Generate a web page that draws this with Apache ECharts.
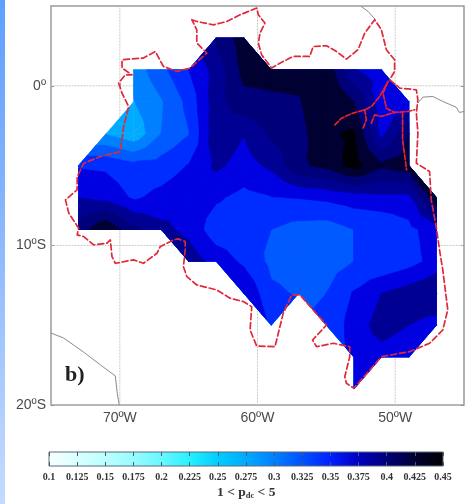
<!DOCTYPE html>
<html><head><meta charset="utf-8">
<style>html,body{margin:0;padding:0;background:#fff}#c{width:467px;height:504px;filter:blur(.45px)}</style>
<script src="https://cdn.jsdelivr.net/npm/echarts@6/dist/echarts.min.js"></script>
</head><body><div id="c"></div>
<script>
// Field values on the 2-degree grid (null = no data)
const lons = [-73,-71,-69,-67,-65,-63,-61,-59,-57,-55,-53,-51,-49,-47];
const lats = [3,1,-1,-3,-5,-7,-9,-11,-13,-15,-17,-19];
const _ = null;
const lat3   = [_,_,_,_,_,.394,.42,_,_,_,_,_,_,_];
const lat1   = [_,_,.298,.324,.35,.378,.416,.418,.418,.424,.372,.36,_,_];
const latS1  = [_,_,.289,.308,.336,.382,.404,.406,.408,.43,.41,.358,.354,_];
const latS3  = [_,.289,.274,.31,.329,.384,.371,.394,.402,.428,.432,.364,.41,_];
const latS5  = [.348,.346,.336,.339,.351,.374,.362,.374,.406,.416,.438,.414,.422,_];
const latS7  = [.37,.364,.347,.356,.364,.353,.344,.349,.351,.354,.36,.364,.364,.426];
const latS9  = [.4,.428,.396,.376,.364,.338,.336,.33,.322,.32,.33,.332,.344,.362];
const latS11 = [_,_,_,_,.382,.362,.346,.325,.322,.32,.33,.332,.342,.358];
const latS13 = [_,_,_,_,_,_,.37,.334,.328,.33,.352,.37,.38,.39];
const latS15 = [_,_,_,_,_,_,_,.346,_,.332,.36,.378,.37,.362];
const latS17 = [_,_,_,_,_,_,_,_,_,_,.358,.362,.358,_];
const latS19 = [_,_,_,_,_,_,_,_,_,_,.354,_,_,_];
const field = [lat3,lat1,latS1,latS3,latS5,latS7,latS9,latS11,latS13,latS15,latS17,latS19];

// Contour levels and the colours of the bands above each
const levels = [.29,.31,.33,.35,.37,.39,.41,.43];
const bandColors = ['#00aaff','#0080ff','#005aff','#002dff','#0000e1','#000092','#00007a','#000032','#000005'];

// Colour bar
const barValues = [.1,.125,.15,.175,.2,.225,.25,.275,.3,.325,.35,.375,.4,.425,.45];
const barColors = ['#fbffff','#d8ffff','#bcffff','#98fbff','#68f8ff','#28f0ff','#00ccff','#00aaff','#0080ff','#0050ff','#0020ff','#0000c0','#000078','#000032','#000000'];

const lonTicks = [-70,-60,-50];
const latTicks = [0,-10,-20];

// Basin outline (lon, lat)
const basin = [[-64.77,4.14],[-64.41,4.03],[-63.2,3.82],[-62.23,4.03],[-61.27,4.45],[-60.06,4.87],[-59.94,4.45],[-59.46,3.93],[-59.82,3.3],[-59.94,2.68],[-59.7,1.94],[-58.97,1.11],[-58.37,1.42],[-57.41,1.84],[-56.2,1.84],[-55.96,2.46],[-54.99,2.51],[-54.26,2.15],[-53.54,1.67],[-52.7,2.26],[-52.21,3.3],[-51.49,4.14],[-51,3.51],[-50.64,2.26],[-50.04,1.63],[-50.04,.9],[-50.4,.38],[-49.67,-.14],[-48.46,-.25],[-48.35,-.88],[-48.46,-1.71],[-48.35,-2.97],[-48.46,-4.85],[-47.5,-5.37],[-47.38,-7.15],[-47.02,-8.82],[-46.78,-10.28],[-46.54,-11.54],[-46.18,-14.04],[-46.54,-15.3],[-47.5,-16.13],[-48.95,-16.66],[-51,-16.97],[-53,-18.95],[-53.54,-18.64],[-53.66,-18.23],[-53.3,-16.97],[-53.3,-16.35],[-54.51,-16.13],[-55.71,-16.35],[-56,-15.93],[-54.99,-14.99],[-56.92,-13.1],[-57.52,-13.1],[-58.13,-14.25],[-58.73,-16.35],[-60.06,-16.3],[-60.54,-15.3],[-60.42,-13.84],[-61.03,-13.52],[-61.99,-13.31],[-62.96,-12.79],[-64.41,-12.48],[-65.13,-11.96],[-65.38,-11.33],[-65.25,-10.28],[-65.25,-9.76],[-65.76,-9.59],[-66.12,-9.66],[-67.07,-10.08],[-67.3,-10.49],[-68.28,-11.12],[-69,-10.91],[-70.33,-11.12],[-70.57,-10.7],[-70.69,-9.66],[-70.93,-9.86],[-71.9,-9.97],[-72.62,-9.45],[-73.1,-9.34],[-72.99,-8.92],[-73.71,-7.98],[-73.95,-7.15],[-73.1,-6.52],[-73.1,-5.69],[-72.62,-4.85],[-71.41,-4.43],[-69.96,-4.12],[-69.72,-2.55],[-69.36,-1.3],[-69.84,-.46],[-70.09,.17],[-69.6,.69],[-69.12,.69],[-69.84,1.11],[-69.84,1.63],[-68.28,1.74],[-67.43,2.15],[-66.83,1.21],[-65.86,.9],[-64.89,1.11],[-63.68,2.05],[-64.41,2.68],[-64.41,3.51],[-64.77,4.14]];
const riverA = [[-54.38,-2.45],[-53.9,-2.03],[-53.06,-1.71],[-52.21,-1.5],[-51.73,-1.3],[-51.13,-.67],[-50.52,.27]];
const riverB = [[-52.21,-1.5],[-52.09,-2.13],[-52.33,-2.65]];
const riverC = [[-51.73,-2.34],[-51.49,-1.82],[-51,-1.92],[-50.64,-1.82],[-50.04,-1.67],[-49.07,-1.61],[-48.59,-1.5]];
const riverD = [[-50.52,.27],[-50.88,-.46],[-50.64,-1.4],[-50.04,-1.67]];
const riverE = [[-49.46,-1.7],[-49.46,-3.39],[-49.17,-5.27]];
const rivers = [riverA,riverB,riverC,riverD,riverE];

// Coastlines
const coastNorth = [[-52.43,4.95],[-51.97,4.66],[-51.49,4.2]];
const coastEast = [[-48.35,-1.07],[-47.99,-.71],[-47.26,-.67],[-46.54,-.98],[-45.57,-1.34],[-45.33,-1.67],[-45,-1.61]];
const coastSouth = [[-75,-15.49],[-74.09,-15.8],[-72.64,-16.68],[-71.41,-17.49],[-70.33,-18.18],[-70.19,-19.25],[-70.04,-20]];

// Triangulate the grid, then clip every triangle to each level
function triangles(){
  const out=[];
  for(let j=0;j<lats.length-1;j++)for(let i=0;i<lons.length-1;i++){
    const c=[[i,j],[i+1,j],[i+1,j+1],[i,j+1]].map(([a,b])=>[lons[a],lats[b],field[b][a]]).filter(p=>p[2]!==null);
    if(c.length===3)out.push(c);
    else if(c.length===4){
      const m=[(c[0][0]+c[1][0])/2,(c[0][1]+c[2][1])/2,(c[0][2]+c[1][2]+c[2][2]+c[3][2])/4];
      for(let k=0;k<4;k++)out.push([c[k],c[(k+1)%4],m]);
    }
  }
  return out;
}
function clip(tri,lv){
  const r=[];
  for(let k=0;k<tri.length;k++){
    const a=tri[k],b=tri[(k+1)%tri.length];
    if(a[2]>=lv)r.push(a);
    if((a[2]>=lv)!==(b[2]>=lv)){
      const t=(lv-a[2])/(b[2]-a[2]);
      r.push([a[0]+t*(b[0]-a[0]),a[1]+t*(b[1]-a[1]),lv]);
    }
  }
  return r;
}
const tris=triangles(), polys=[];
[-Infinity,...levels].forEach((lv,idx)=>{
  tris.forEach(t=>{const p=clip(t,lv); if(p.length>2)polys.push({pts:p,color:bandColors[idx]});});
});

const lineOf=(data,color,type,width,z)=>({type:'line',xAxisIndex:0,yAxisIndex:0,data,symbol:'none',silent:true,z,clip:true,
  lineStyle:{color,type,width,cap:'round',join:'round'}});
const gridGrey='#c4c4c4';
const series=[
  ...lonTicks.map(l=>lineOf([[l,-20],[l,5]],gridGrey,[1,2],1,1)),
  ...latTicks.map(l=>lineOf([[-75,l],[-45,l]],gridGrey,[1,2],1,1)),
  {type:'custom',xAxisIndex:0,yAxisIndex:0,coordinateSystem:'cartesian2d',silent:true,z:2,clip:true,
    data:polys.map((p,i)=>[p.pts[0][0],p.pts[0][1],i]),
    renderItem:(params,api)=>{const p=polys[params.dataIndex];
      return {type:'polygon',shape:{points:p.pts.map(q=>api.coord([q[0],q[1]]))},style:{fill:p.color,stroke:p.color,lineWidth:.5}};}},
  lineOf(coastNorth,'#8a8a8a','solid',1,3),
  lineOf(coastEast,'#8a8a8a','solid',1,3),
  lineOf(coastSouth,'#8a8a8a','solid',1,3),
  lineOf(basin,'#e0283c',[6,3],1.7,4),
  ...rivers.map(r=>lineOf(r,'#e8202e',[5,2],1.7,4)),
  {type:'custom',xAxisIndex:2,yAxisIndex:2,coordinateSystem:'cartesian2d',silent:true,z:2,
    data:[[barValues[0],0]],
    renderItem:(params,api)=>{
      const a=api.coord([barValues[0],0]),b=api.coord([barValues[barValues.length-1],1]);
      const span=barValues[barValues.length-1]-barValues[0];
      return {type:'rect',shape:{x:a[0],y:b[1],width:b[0]-a[0],height:a[1]-b[1]},
        style:{fill:new echarts.graphic.LinearGradient(0,0,1,0,barValues.map((v,i)=>({offset:(v-barValues[0])/span,color:barColors[i]})))}};}}
];

const fmtLon=v=>Math.abs(v)+'ºW';
const fmtLat=v=>v===0?'0º':Math.abs(v)+'ºS';
const labelFont={fontFamily:'"Liberation Sans"',fontSize:14,color:'#4a4a4a'};
const barFont={fontFamily:'"Liberation Serif"',fontSize:10,fontWeight:'bold',color:'#333'};
const hiddenLine={show:false};
const opt={
  animation:false,
  backgroundColor:'#fff',
  grid:[
    {left:51,right:3,top:6,height:399,show:true,backgroundColor:'#fff',borderColor:'#9a9a9a',borderWidth:1.5,z:0},
    {left:49,right:24,top:452,height:14,show:true,borderColor:'#5a6a78',borderWidth:1,backgroundColor:'transparent',z:5}
  ],
  xAxis:[
    {gridIndex:0,type:'value',min:-75,max:-45,position:'bottom',axisLine:hiddenLine,splitLine:{show:false},
      axisTick:{show:true,inside:true,length:3,customValues:lonTicks,lineStyle:{color:'#888'}},
      axisLabel:{...labelFont,margin:6,customValues:lonTicks,formatter:fmtLon}},
    {gridIndex:0,type:'value',min:-75,max:-45,position:'top',axisLine:hiddenLine,splitLine:{show:false},
      axisTick:{show:true,inside:true,length:3,customValues:lonTicks,lineStyle:{color:'#888'}},axisLabel:{show:false}},
    {gridIndex:1,type:'value',min:.1,max:.45,interval:.025,position:'bottom',axisLine:hiddenLine,splitLine:{show:false},z:6,
      axisTick:{show:true,inside:true,length:4,lineStyle:{color:'#4a5a68'}},
      axisLabel:{...barFont,margin:6,showMinLabel:true,showMaxLabel:true,hideOverlap:false,formatter:v=>String(+v.toFixed(3))}},
    {gridIndex:1,type:'value',min:.1,max:.45,interval:.025,position:'top',axisLine:hiddenLine,splitLine:{show:false},z:6,
      axisTick:{show:true,inside:true,length:4,lineStyle:{color:'#4a5a68'}},axisLabel:{show:false}}
  ],
  yAxis:[
    {gridIndex:0,type:'value',min:-20,max:5,position:'left',axisLine:hiddenLine,splitLine:{show:false},
      axisTick:{show:true,inside:true,length:3,customValues:latTicks,lineStyle:{color:'#888'}},
      axisLabel:{...labelFont,margin:5,customValues:latTicks,formatter:fmtLat}},
    {gridIndex:0,type:'value',min:-20,max:5,position:'right',axisLine:hiddenLine,splitLine:{show:false},
      axisTick:{show:true,inside:true,length:3,customValues:latTicks,lineStyle:{color:'#888'}},axisLabel:{show:false}},
    {gridIndex:1,type:'value',min:0,max:1,show:false}
  ],
  series,
  graphic:[
    {type:'rect',left:0,top:0,z:0,silent:true,shape:{width:5,height:504},
      style:{fill:new echarts.graphic.LinearGradient(0,0,0,1,[{offset:0,color:'#5f9fff'},{offset:.5,color:'#8fbaff'},{offset:1,color:'#c4dbff'}])}},
    {type:'text',left:65,top:364,z:20,silent:true,style:{text:'b)',font:'bold 22px "Liberation Serif"',fill:'#222'}},
    {type:'text',left:217,top:486,z:20,silent:true,style:{
      text:'{a|1 < p}{b|dc}{a| < 5}',
      rich:{a:{font:'bold 13.5px "Liberation Serif"',fill:'#333',color:'#333',lineHeight:15,verticalAlign:'bottom'},
            b:{font:'bold 8.5px "Liberation Serif"',fill:'#333',color:'#333',lineHeight:11,verticalAlign:'bottom'}}}}
  ]
};
const chart=echarts.init(document.getElementById('c'),null,{renderer:'canvas'});
chart.setOption(opt);
</script></body></html>
